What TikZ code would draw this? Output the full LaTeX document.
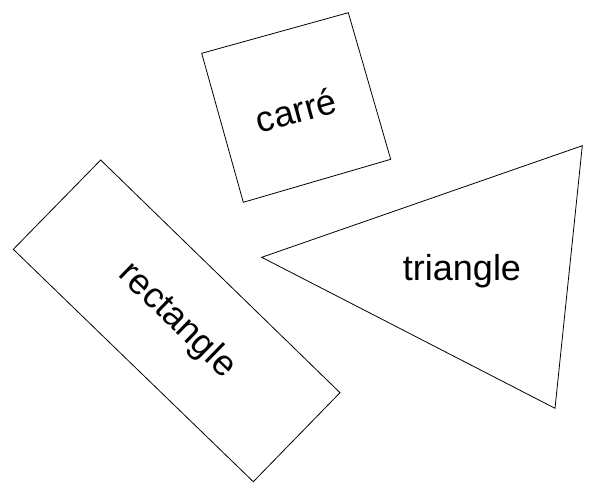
\documentclass[tikz,border=0pt]{standalone}
\usepackage{fontspec}
\setmainfont{Liberation Sans}
\tikzset{shape line/.style={draw=black, line width=0.8pt, line join=miter},
  label text/.style={font=\fontsize{36}{40}\selectfont, inner sep=0pt}}
\begin{document}
\begin{tikzpicture}[x=1pt,y=-1pt]
\useasboundingbox (0,0) rectangle (589,483);
% square
\draw[shape line] (201.7,53.3) -- (348.3,12.7) -- (390.7,159.3) -- (243.3,202.3) -- cycle;
\node[label text, rotate=15.5] (carre) at (296,110) {carré};
% rectangle
\draw[shape line] (100.7,160) -- (340,392.7) -- (253.3,481.7) -- (13.3,249.3) -- cycle;
\node[label text, rotate=-44.2] (rect) at (176.8,320.9) {rectangle};
% triangle
\draw[shape line] (261.7,257.3) -- (582.3,145.7) -- (555,408.3) -- cycle;
\node[label text] (tri) at (462,271) {triangle};
\end{tikzpicture}
\end{document}
